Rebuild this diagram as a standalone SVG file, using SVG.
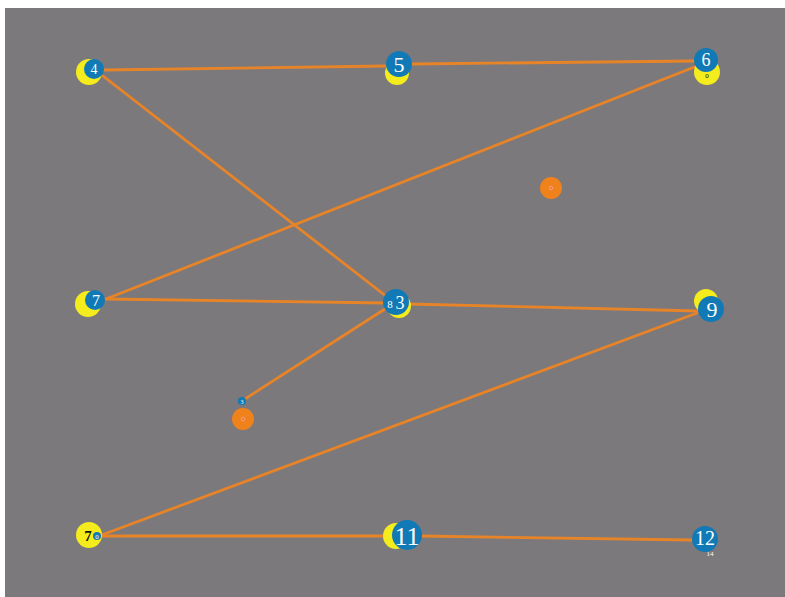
<svg xmlns="http://www.w3.org/2000/svg" width="785" height="597" viewBox="0 0 785 597">
<style>
.y{fill:#f4ec1c}
.b{fill:#1079b6}
.o{fill:#f0821c}
.t{font-family:"Liberation Serif",serif;fill:#ffffff;text-anchor:middle}
.k{font-family:"Liberation Serif",serif;fill:#111111;text-anchor:middle}
#edges line{stroke:#e88428;stroke-width:2.8;stroke-linecap:round}
</style>
<rect x="0" y="0" width="785" height="597" fill="#ffffff"/>
<rect x="5" y="8" width="780" height="589" fill="#7c797c"/>
<g id="edges">
<line x1="103" y1="70" x2="386" y2="66"/>
<line x1="412" y1="64" x2="695" y2="61"/>
<line x1="103" y1="76" x2="391" y2="300"/>
<line x1="697" y1="66" x2="106" y2="299"/>
<line x1="106" y1="299" x2="386" y2="303"/>
<line x1="408" y1="304" x2="698" y2="311"/>
<line x1="388" y1="307" x2="245" y2="399"/>
<line x1="697" y1="313" x2="99" y2="536"/>
<line x1="99" y1="536" x2="392" y2="536"/>
<line x1="420" y1="536" x2="692" y2="540"/>
</g>
<g id="n4"><circle class="y" cx="89" cy="72" r="13"/><circle class="b" cx="94" cy="69" r="10"/><text class="t" x="94" y="74" font-size="14">4</text></g>
<g id="n5"><circle class="y" cx="397" cy="73" r="12"/><circle class="b" cx="399" cy="64" r="13"/><text class="t" x="399" y="72" font-size="22">5</text></g>
<g id="n6"><circle class="y" cx="707" cy="72" r="13"/><circle class="b" cx="706" cy="60" r="12"/><text class="t" x="706" y="66" font-size="18">6</text><text class="k" x="707" y="78" font-size="7">0</text></g>
<g id="n7"><circle class="y" cx="88" cy="304" r="13"/><circle class="b" cx="95" cy="300" r="10"/><text class="t" x="96" y="306" font-size="16">7</text></g>
<g id="n3"><circle class="y" cx="399" cy="306" r="12"/><circle class="b" cx="396" cy="302" r="13"/><text class="t" x="390" y="308" font-size="11">8</text><text class="t" x="400" y="309" font-size="18">3</text></g>
<g id="n9"><circle class="y" cx="706" cy="301" r="12"/><circle class="b" cx="711" cy="309" r="13"/><text class="t" x="712" y="317" font-size="22">9</text></g>
<g id="n10"><circle class="y" cx="89" cy="535" r="13"/><text class="k" x="88" y="541" font-size="15" font-weight="bold">7</text><circle class="b" cx="97" cy="536" r="4"/><text class="t" x="97" y="539" font-size="7">0</text></g>
<g id="n11"><circle class="y" cx="396" cy="536" r="13"/><circle class="b" cx="407" cy="535" r="15"/><text class="t" x="407" y="545" font-size="26">11</text></g>
<g id="n12"><circle class="b" cx="705" cy="539" r="13"/><text class="t" x="705" y="545" font-size="20">12</text><text class="t" x="710" y="556" font-size="7">14</text></g>
<g id="s1"><circle class="b" cx="242" cy="401" r="4"/><text class="t" x="242" y="404" font-size="6">3</text></g>
<g id="o1"><circle class="o" cx="243" cy="419" r="11"/><circle cx="243" cy="419" r="1.8" fill="none" stroke="#f4a0a0" stroke-width="0.8"/></g>
<g id="o2"><circle class="o" cx="551" cy="188" r="11"/><circle cx="551" cy="188" r="1.8" fill="none" stroke="#f4a0a0" stroke-width="0.8"/></g>
</svg>
